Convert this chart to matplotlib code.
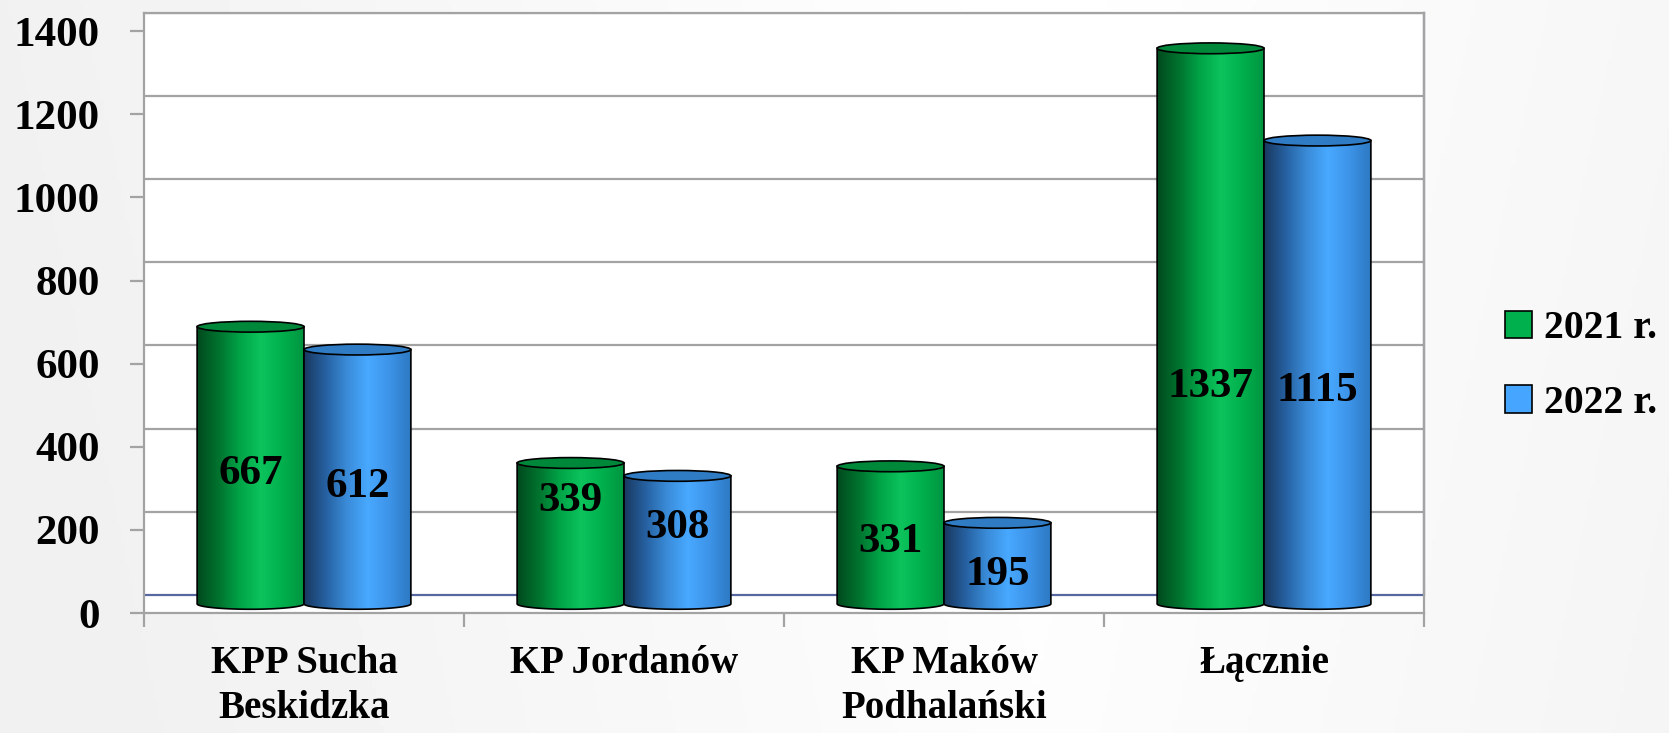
import numpy as np
import matplotlib
matplotlib.use("Agg")
import matplotlib.pyplot as plt
from matplotlib.path import Path
from matplotlib.patches import PathPatch, Ellipse, Patch
from matplotlib.colors import LinearSegmentedColormap

plt.rcParams['font.family'] = ['Liberation Serif', 'DejaVu Serif']
plt.rcParams['font.weight'] = 'bold'

# data
categories = ['KPP Sucha\nBeskidzka', 'KP Jordanów', 'KP Maków\nPodhalański', 'Łącznie']
series = ['2021 r.', '2022 r.']
v2021 = [667, 339, 331, 1337]
v2022 = [612, 308, 195, 1115]
yticks = [0, 200, 400, 600, 800, 1000, 1200, 1400]

# where the value labels sit inside each cylinder (fraction of height)
lab_2021 = [0.47, 0.73, 0.45, 0.39]
lab_2022 = [0.46, 0.59, 0.36, 0.46]

d = 22          # half depth of the 3d floor, in data units
ell_h = 26      # height of cylinder top ellipse, data units
bw = 0.334      # bar width (category = 1)

green_stops = ['#004a1d', '#00722e', '#00a447', '#0cc35c', '#00b04c', '#009540']
blue_stops = ['#193860', '#2660a0', '#3a8bd8', '#48a9ff', '#3d94e8', '#2d78c2']
green_top = '#00883a'
blue_top = '#2f7bc4'

fig = plt.figure(figsize=(16.69, 7.33), dpi=100)

# background gradient
bg = fig.add_axes([0, 0, 1, 1], zorder=-10)
gx = np.linspace(0, 1, 400)
gy = np.linspace(0, 1, 200)
X, Y = np.meshgrid(gx, gy)
shade = 0.945 + 0.055 * np.clip(1 - np.abs(X - 0.62) / 0.62 - 0.15 * Y, 0, 1)
bg.imshow(shade, cmap='gray', vmin=0, vmax=1, aspect='auto', extent=[0, 1, 0, 1])
bg.axis('off')

ax = fig.add_axes([144 / 1669, 1 - 613 / 733, 1280 / 1669, 600 / 733])
ax.set_facecolor('white')
ax.set_xlim(0, 4)
ax.set_ylim(-d, 1400 + d)

# back wall gridlines
for v in yticks[1:]:
    ax.axhline(v + d, color='#a3a3a3', lw=1.6, zorder=1)
ax.axhline(d, color='#56689f', lw=1.6, zorder=1)
ax.plot([4, 4], [d, 1400 + d], color='#56689f', lw=1.6, zorder=1, clip_on=False)

for s in ['top', 'left', 'bottom', 'right']:
    ax.spines[s].set_color('#a3a3a3')
    ax.spines[s].set_linewidth(1.6)

def cylinder(xc, h, stops, top, zo):
    x0, x1 = xc - bw / 2, xc + bw / 2
    th = np.linspace(np.pi, 2 * np.pi, 60)
    bx = xc + bw / 2 * np.cos(th)
    by = ell_h / 2 * np.sin(th)
    verts = [(x0, h)] + list(zip(bx, by)) + [(x1, h), (x0, h)]
    codes = [Path.MOVETO] + [Path.LINETO] * (len(verts) - 2) + [Path.CLOSEPOLY]
    body = PathPatch(Path(verts, codes), facecolor='none', edgecolor='black', lw=1.2, zorder=zo + 1)
    ax.add_patch(body)
    cmap = LinearSegmentedColormap.from_list('c', stops)
    grad = np.linspace(0, 1, 256).reshape(1, -1)
    im = ax.imshow(grad, cmap=cmap, aspect='auto', extent=[x0, x1, -ell_h / 2, h],
                   zorder=zo, interpolation='bilinear')
    im.set_clip_path(body)
    ax.add_patch(Ellipse((xc, h), bw, ell_h, facecolor=top, edgecolor='black', lw=1.2, zorder=zo + 2))

for i in range(len(categories)):
    cylinder(i + 0.5 - bw / 2, v2021[i], green_stops, green_top, 3 + i * 6)
    cylinder(i + 0.5 + bw / 2, v2022[i], blue_stops, blue_top, 6 + i * 6)
    ax.text(i + 0.5 - bw / 2, v2021[i] * lab_2021[i], str(v2021[i]), ha='center', va='center',
            fontsize=31, fontweight='bold', zorder=50)
    ax.text(i + 0.5 + bw / 2, v2022[i] * lab_2022[i], str(v2022[i]), ha='center', va='center',
            fontsize=31, fontweight='bold', zorder=50)

# y axis: front ticks sit below the back wall lines
ax.set_yticks([v - d for v in yticks])
ax.set_yticklabels([str(v) for v in yticks], fontsize=31, fontweight='bold')
ax.tick_params(axis='y', length=10, width=1.6, color='#a3a3a3', pad=22)

ax.set_xticks([0, 1, 2, 3, 4])
ax.set_xticklabels([])
ax.set_xticks([0.5, 1.5, 2.5, 3.5], minor=True)
ax.set_xticklabels(categories, minor=True, fontsize=28, fontweight='bold')
ax.tick_params(axis='x', which='major', length=10, width=1.6, color='#a3a3a3')
ax.tick_params(axis='x', which='minor', length=0, pad=23)
for lbl in ax.get_xticklabels(minor=True):
    lbl.set_linespacing(1.3)

handles = [Patch(facecolor='#00b04c', edgecolor='black', lw=1.2),
           Patch(facecolor='#45a5ff', edgecolor='black', lw=1.2)]
fig.legend(handles, series, loc='center left', bbox_to_anchor=(1505 / 1669, 1 - 366 / 733),
           frameon=False, prop={'family': 'Liberation Serif', 'weight': 'bold', 'size': 28.5},
           handlelength=0.68, handleheight=0.68, handletextpad=0.3, labelspacing=0.95,
           borderpad=0, borderaxespad=0)

fig.savefig('out.png', dpi=100)
